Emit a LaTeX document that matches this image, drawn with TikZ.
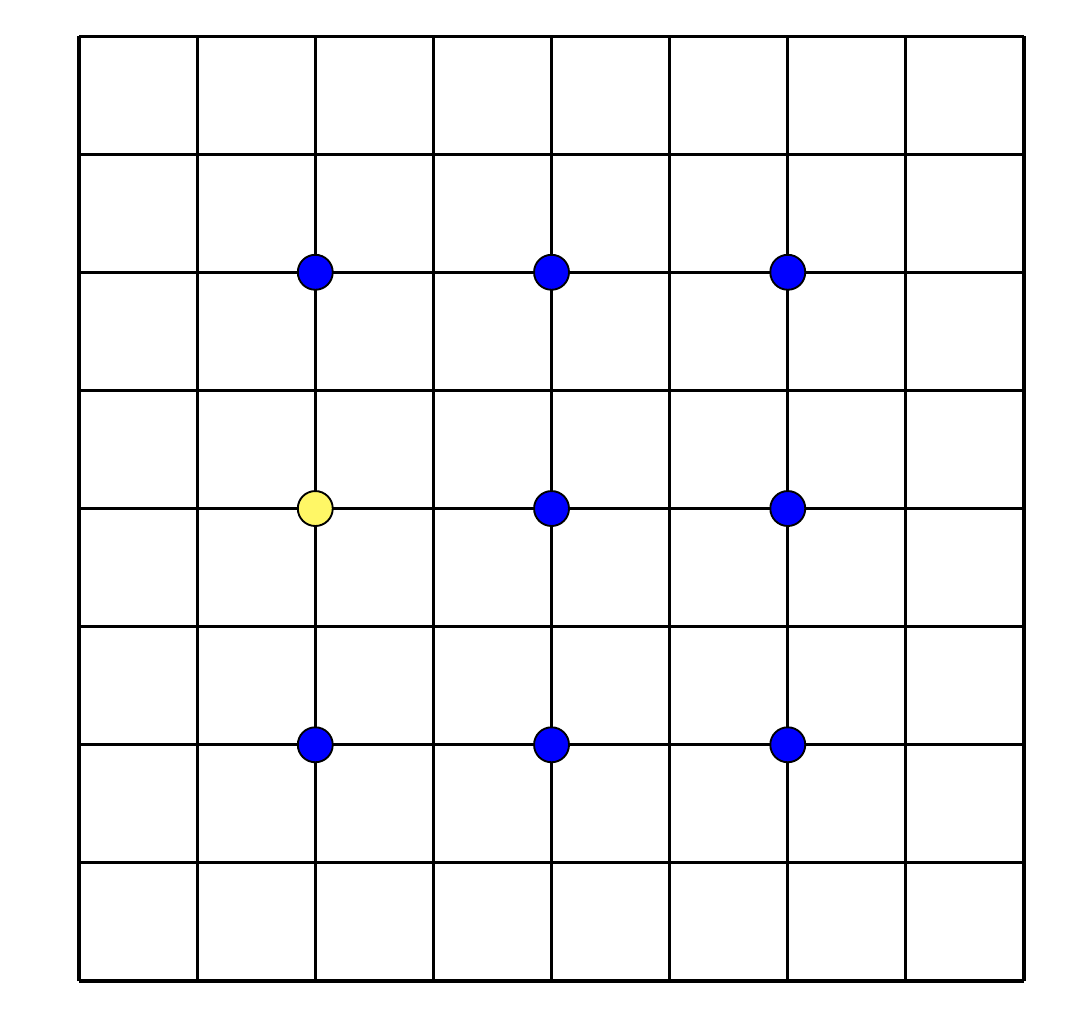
\documentclass[tikz,border=0pt]{standalone}
\usepackage{tikz}
\begin{document}
\begin{tikzpicture}[
        gridline/.style={line width=0.75pt, black},
        site/.style={circle, draw, line width=0.45pt, inner sep=0pt,
                minimum size=0.296cm, fill=blue},
        start/.style={site, fill=yellow!60}
    ]
    \useasboundingbox (-0.669,-0.279) rectangle (8.55,8.305);
    \draw[gridline] (0,0) grid (8,8);

    \foreach \i in {2,4,6} {
        \foreach \j in {2,4,6} {
            \ifnum\i=2 \ifnum\j=4
                \node[start] (s\i\j) at (\i,\j) {};
            \else
                \node[site] (s\i\j) at (\i,\j) {};
            \fi
            \else
                \node[site] (s\i\j) at (\i,\j) {};
            \fi
        }
    }
\end{tikzpicture}
\end{document}
